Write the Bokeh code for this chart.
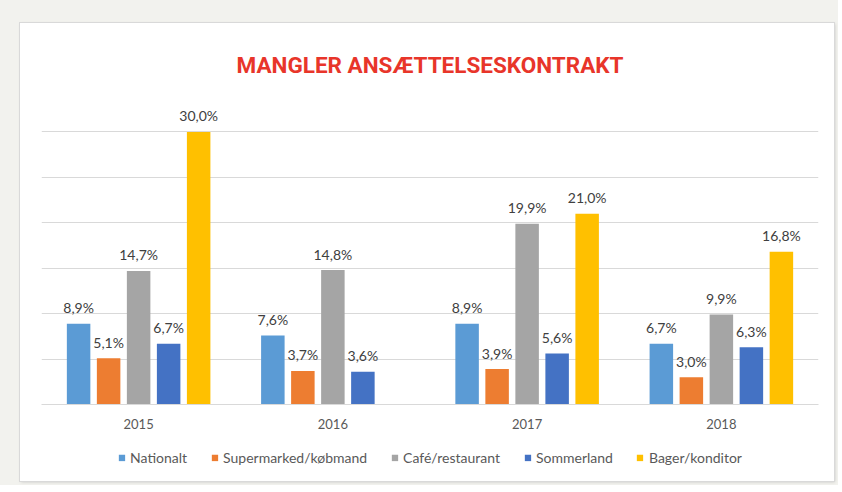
from bokeh.plotting import figure
from bokeh.models import ColumnDataSource, FactorRange, FixedTicker, Legend, LegendItem, Spacer
from bokeh.transform import dodge
from bokeh.layouts import column, row
from bokeh.core.properties import value
from bokeh.embed import file_html
from bokeh.resources import INLINE

title_text = "MANGLER ANSÆTTELSESKONTRAKT"
years = ["2015", "2016", "2017", "2018"]
nationalt = [8.9, 7.6, 8.9, 6.7]
supermarked = [5.1, 3.7, 3.9, 3.0]
cafe = [14.7, 14.8, 19.9, 9.9]
sommerland = [6.7, 3.6, 5.6, 6.3]
bager = [30.0, float("nan"), 21.0, 16.8]
series_names = ["Nationalt", "Supermarked/købmand", "Café/restaurant", "Sommerland", "Bager/konditor"]
series_values = [nationalt, supermarked, cafe, sommerland, bager]
colors = ["#5B9BD5", "#ED7D31", "#A5A5A5", "#4472C4", "#FFC000"]
y_ticks = [0, 5, 10, 15, 20, 25, 30, 35]

LABEL_FONT = "Lato"
PANEL_W = 814

p = figure(x_range=FactorRange(*years), y_range=(0, 35), width=PANEL_W, height=410,
           output_backend="svg", toolbar_location=None, title=title_text)
p.background_fill_color = "white"
p.border_fill_color = "white"
p.outline_line_color = None
p.min_border_left = 21
p.min_border_right = 16
p.min_border_top = 63
p.min_border_bottom = 29

p.title.align = "center"
p.title.text_font = "Roboto"
p.title.text_font_size = "22.5px"
p.title.text_font_style = "bold"
p.title.text_color = "#E8352A"
p.title.standoff = 18

p.yaxis.visible = False
p.yaxis.ticker = FixedTicker(ticks=y_ticks)
p.ygrid.ticker = FixedTicker(ticks=y_ticks)
p.ygrid.grid_line_color = "#D9D9D9"
p.ygrid.grid_line_width = 1
p.xgrid.visible = False

p.xaxis.axis_line_color = "#D9D9D9"
p.xaxis.major_tick_line_color = None
p.xaxis.minor_tick_line_color = None
p.xaxis.major_label_text_font = LABEL_FONT
p.xaxis.major_label_text_font_size = "13px"
p.xaxis.major_label_text_color = "#595959"
p.xaxis.major_label_standoff = 8

pitch = 0.1545
width = 0.121
sources = []
for i, (name, vals, col) in enumerate(zip(series_names, series_values, colors)):
    off = (i - 2) * pitch
    labels = ["" if v != v else f"{v:.1f}%".replace(".", ",") for v in vals]
    src = ColumnDataSource(dict(x=years, top=vals, label=labels))
    sources.append(src)
    p.vbar(x=dodge("x", off, range=p.x_range), top="top", width=width, source=src,
           fill_color=col, line_color=None)
    p.text(x=dodge("x", off, range=p.x_range), y="top", text="label", source=src,
           text_font=value(LABEL_FONT), text_font_size="14px", text_color="#404040",
           text_align="center", text_baseline="alphabetic", y_offset=-16)

# legend strip below the chart (its bars lie outside its visible y-range)
lg = figure(width=PANEL_W, height=48, x_range=FactorRange(*years), y_range=(100, 101),
            output_backend="svg", toolbar_location=None)
lg.axis.visible = False
lg.grid.visible = False
lg.outline_line_color = None
lg.background_fill_color = "white"
lg.border_fill_color = "white"
lg.min_border = 0
items = []
for name, col, src in zip(series_names, colors, sources):
    r = lg.vbar(x="x", top="top", width=0.1, source=src, fill_color=col, line_color=None)
    items.append(LegendItem(label=name, renderers=[r]))
legend = Legend(items=items, orientation="horizontal", location="center",
                glyph_width=8, glyph_height=8, label_standoff=5, spacing=23,
                label_text_font=LABEL_FONT, label_text_font_size="14px",
                label_text_color="#595959", border_line_color=None,
                background_fill_alpha=0, padding=4, margin=0)
lg.add_layout(legend, "center")

panel = column(p, lg, spacing=0,
               styles={"box-shadow": "0 0 0 1px #D9D9D9, 1px 1px 3px rgba(0,0,0,0.18)",
                       "background-color": "white"})
inner = column(Spacer(width=PANEL_W, height=23), panel, Spacer(width=PANEL_W, height=4), spacing=0)
layout = row(Spacer(width=20, height=485), inner, Spacer(width=4, height=485), spacing=0,
             styles={"background-color": "#F2F2EE"})

open("out.html", "w").write(file_html(layout, INLINE))
